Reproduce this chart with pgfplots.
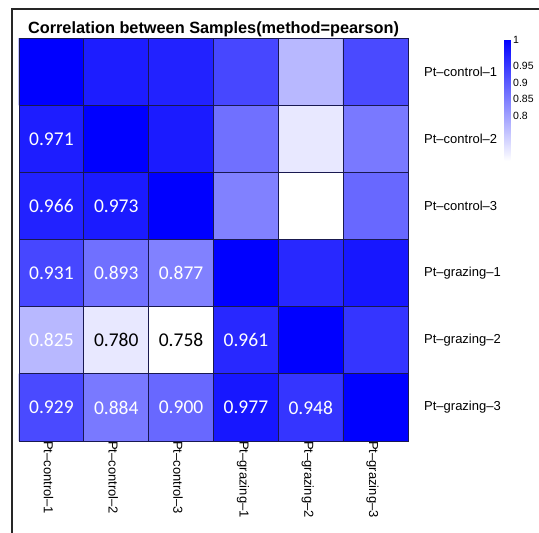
\documentclass[border=0pt]{standalone}
\usepackage{fontspec}
\setmainfont{Liberation Sans}
\newfontfamily\carlito{Carlito}
\usepackage{pgfplots}
\pgfplotsset{compat=1.18}
\usepackage{pgfplotstable}

\pgfplotstableread{
x y v
0 0 1
1 0 0.971
2 0 0.966
3 0 0.931
4 0 0.825
5 0 0.929
0 1 0.971
1 1 1
2 1 0.973
3 1 0.893
4 1 0.780
5 1 0.884
0 2 0.966
1 2 0.973
2 2 1
3 2 0.877
4 2 0.758
5 2 0.900
0 3 0.931
1 3 0.893
2 3 0.877
3 3 1
4 3 0.961
5 3 0.977
0 4 0.825
1 4 0.780
2 4 0.758
3 4 0.961
4 4 1
5 4 0.948
0 5 0.929
1 5 0.884
2 5 0.900
3 5 0.977
4 5 0.948
5 5 1
}\corr

\pgfplotstableread{
x y lab
0 1 0.971
0 2 0.966
1 2 0.973
0 3 0.931
1 3 0.893
2 3 0.877
0 4 0.825
3 4 0.961
0 5 0.929
1 5 0.884
2 5 0.900
3 5 0.977
4 5 0.948
}\whitelab

\pgfplotstableread{
x y lab
1 4 0.780
2 4 0.758
}\blacklab

\definecolor{cellline}{RGB}{25,25,80}

\begin{document}
\begin{tikzpicture}
\useasboundingbox (0pt,0pt) rectangle (539pt,533pt);
\draw[line width=2pt,black!85] (12pt,0pt) -- (12pt,523.5pt) -- (539pt,523.5pt);
\node[anchor=base,font=\bfseries\fontsize{16.3}{19}\selectfont] at (213.5pt,499.7pt) {Correlation between Samples(method=pearson)};
\begin{axis}[
  at={(19pt,92pt)}, anchor=south west,
  scale only axis, width=389pt, height=403pt,
  xmin=-0.5, xmax=5.5, ymin=-0.5, ymax=5.5,
  y dir=reverse,
  axis on top,
  enlargelimits=false,
  colormap={bw}{rgb255=(255,255,255) rgb255=(0,0,255)},
  point meta min=0.758, point meta max=1,
  xtick={0,...,5}, ytick={0,...,5},
  xticklabels={Pt–control–1,Pt–control–2,Pt–control–3,Pt–grazing–1,Pt–grazing–2,Pt–grazing–3},
  yticklabels={Pt–control–1,Pt–control–2,Pt–control–3,Pt–grazing–1,Pt–grazing–2,Pt–grazing–3},
  yticklabel pos=right,
  major tick length=0pt, minor tick length=0pt,
  minor xtick={0.5,1.5,2.5,3.5,4.5},
  minor ytick={0.5,1.5,2.5,3.5,4.5},
  xminorgrids=true, yminorgrids=true,
  minor grid style={cellline, line width=0.9pt},
  axis line style={cellline, line width=0.9pt},
  xticklabel style={rotate=-90, anchor=west, inner sep=0pt, yshift=-3pt, font=\fontsize{13}{15}\selectfont},
  yticklabel style={anchor=west, inner sep=0pt, xshift=16pt, font=\fontsize{13}{15}\selectfont},
  /pgf/number format/assume math mode=true,
  colorbar right,
  colorbar style={
    at={(parent axis.north east)}, anchor=north west,
    xshift=88pt, yshift=-1pt,
    width=6pt, height=122pt,
    ytick={0.998,0.9464,0.9133,0.8804,0.8478},
    yticklabels={1,0.95,0.9,0.85,0.8},
    major tick length=0pt,
    axis line style={draw=none},
    yticklabel style={font=\fontsize{10.5}{12}\selectfont, inner sep=2.5pt},
    /pgf/number format/assume math mode=true,
  },
]
\addplot[matrix plot*, mesh/cols=6, point meta=explicit] table[x=x, y=y, meta=v] {\corr};
\addplot[draw=none, no markers, nodes near coords, point meta=explicit symbolic,
  every node near coord/.append style={anchor=center, text=white, font=\carlito\fontsize{19.5}{23}\selectfont}]
  table[x=x, y=y, meta=lab] {\whitelab};
\addplot[draw=none, no markers, nodes near coords, point meta=explicit symbolic,
  every node near coord/.append style={anchor=center, text=black, font=\carlito\fontsize{19.5}{23}\selectfont}]
  table[x=x, y=y, meta=lab] {\blacklab};
\end{axis}
\end{tikzpicture}
\end{document}
